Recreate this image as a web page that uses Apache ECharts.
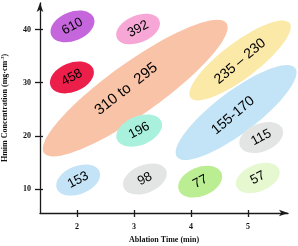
<!DOCTYPE html>
<html><head><meta charset="utf-8">
<script src="https://cdn.jsdelivr.net/npm/echarts@6/dist/echarts.min.js"></script>
<style>html,body{margin:0;padding:0;background:#fff}#c{width:298px;height:246px}</style>
</head><body><div id="c"></div>
<script>
// Data
var labels  = ['310 to  295', '235 \u2013 230', '155-170', '610', '392', '458', '196', '115', '153', '98', '77', '57'];
var centerX = [3.02, 4.86, 4.79, 1.92, 3.07, 1.91, 3.09, 5.23, 2.02, 3.19, 4.16, 5.17];
var centerY = [29.0, 34.2, 24.4, 40.6, 40.1, 31.0, 21.0, 19.7, 11.7, 11.9, 11.4, 12.1];
var xTicks = [2, 3, 4, 5];
var yTicks = [10, 20, 30, 40];

// Styles (pixel sizes, rotation, colours, label offsets)
var shapeStyle = [
  {rx: 112, ry: 26, rot: 35.5, color: '#f8c3a6', font: 15, trot: 38, tx: -9, ty: 1},
  {rx: 62, ry: 18, rot: 37, color: '#fbe9a8', font: 14, trot: 40, tx: 0, ty: 1},
  {rx: 74, ry: 21, rot: 37, color: '#c3e4f6', font: 14, trot: 40, tx: -3, ty: 3},
  {rx: 23, ry: 14.5, rot: 22, color: '#c566dc', font: 13, trot: 28, tx: 0, ty: 0},
  {rx: 23, ry: 13.5, rot: 22, color: '#f7a7d5', font: 13, trot: 28, tx: 0, ty: 0},
  {rx: 23, ry: 14.5, rot: 22, color: '#ec1f4b', font: 13, trot: 28, tx: 0, ty: 0},
  {rx: 24, ry: 14.5, rot: 22, color: '#a9f1dd', font: 13, trot: 28, tx: 0, ty: 0},
  {rx: 23, ry: 14, rot: 22, color: '#e3e5e5', font: 13, trot: 28, tx: 0, ty: 0},
  {rx: 23, ry: 14, rot: 22, color: '#c4e3f6', font: 13, trot: 28, tx: 0, ty: 0},
  {rx: 23, ry: 14, rot: 22, color: '#e3e5e5', font: 13, trot: 28, tx: 0, ty: 0},
  {rx: 23, ry: 14.5, rot: 22, color: '#bbee92', font: 13, trot: 28, tx: 0, ty: 0},
  {rx: 23, ry: 13.5, rot: 22, color: '#e5f8cf', font: 13, trot: 28, tx: 0, ty: 0}
];

var seriesData = labels.map(function (l, i) { return [centerX[i], centerY[i], i]; });

var chart = echarts.init(document.getElementById('c'), null, {renderer: 'canvas'});
var serif = '"Liberation Serif", "Times New Roman", serif';
var axisLineStyle = {color: '#1a1a1a', width: 1.3};
var xMin = 1.35, xMax = 5.7, yMin = 5.5, yMax = 45;

chart.setOption({
  animation: false,
  grid: {left: 40, right: 10, top: 3, bottom: 33, containLabel: false, outerBoundsMode: 'none'},
  xAxis: [{
    type: 'value', min: xMin, max: xMax,
    splitLine: {show: false},
    axisLine: {show: true, lineStyle: axisLineStyle, symbol: ['none', 'arrow'], symbolSize: [5, 9]},
    axisTick: {show: true, length: 4, lineStyle: axisLineStyle, customValues: xTicks},
    axisLabel: {show: true, customValues: xTicks, margin: 10, fontFamily: serif, fontWeight: 'bold', fontSize: 8, color: '#111'},
    name: 'Ablation Time (min)', nameLocation: 'middle', nameGap: 22,
    nameTextStyle: {fontFamily: serif, fontWeight: 'bold', fontSize: 8, color: '#111'}
  }, {
    type: 'value', min: xMin, max: xMax, position: 'bottom', offset: 0,
    splitLine: {show: false}, axisLine: {show: false},
    axisTick: {show: true, inside: true, length: 3, lineStyle: axisLineStyle, customValues: xTicks},
    axisLabel: {show: false}
  }],
  yAxis: [{
    type: 'value', min: yMin, max: yMax,
    splitLine: {show: false},
    axisLine: {show: true, lineStyle: axisLineStyle, symbol: ['none', 'arrow'], symbolSize: [5, 9]},
    axisTick: {show: true, length: 5, lineStyle: axisLineStyle, customValues: yTicks},
    axisLabel: {show: true, customValues: yTicks, margin: 9, fontFamily: serif, fontWeight: 'bold', fontSize: 8, color: '#111'},
    name: '{a|Hmim Concentration (mg\u00b7cm}{s|-3}{a|)}', nameLocation: 'middle', nameGap: 31,
    nameTextStyle: {
      rich: {
        a: {fontFamily: serif, fontWeight: 'bold', fontSize: 8, color: '#111'},
        s: {fontFamily: serif, fontWeight: 'bold', fontSize: 5, color: '#111', verticalAlign: 'top', padding: [0, 0, 4, 0]}
      }
    }
  }, {
    type: 'value', min: yMin, max: yMax, position: 'left', offset: 0,
    splitLine: {show: false}, axisLine: {show: false},
    axisTick: {show: true, inside: true, length: 3, lineStyle: axisLineStyle, customValues: yTicks},
    axisLabel: {show: false}
  }],
  series: [{
    type: 'custom',
    coordinateSystem: 'cartesian2d',
    data: seriesData,
    encode: {x: 0, y: 1},
    renderItem: function (params, api) {
      var idx = api.value(2);
      var st = shapeStyle[idx];
      var p = api.coord([api.value(0), api.value(1)]);
      return {
        type: 'group',
        children: [{
          type: 'ellipse',
          x: p[0], y: p[1], rotation: st.rot * Math.PI / 180,
          shape: {cx: 0, cy: 0, rx: st.rx, ry: st.ry},
          style: {fill: st.color}
        }, {
          type: 'text',
          x: p[0] + st.tx, y: p[1] + st.ty, rotation: st.trot * Math.PI / 180,
          style: {
            text: labels[idx], fill: '#000', align: 'center', verticalAlign: 'middle',
            font: st.font + 'px "Liberation Sans", Arial, sans-serif'
          }
        }]
      };
    }
  }]
});
</script></body></html>
